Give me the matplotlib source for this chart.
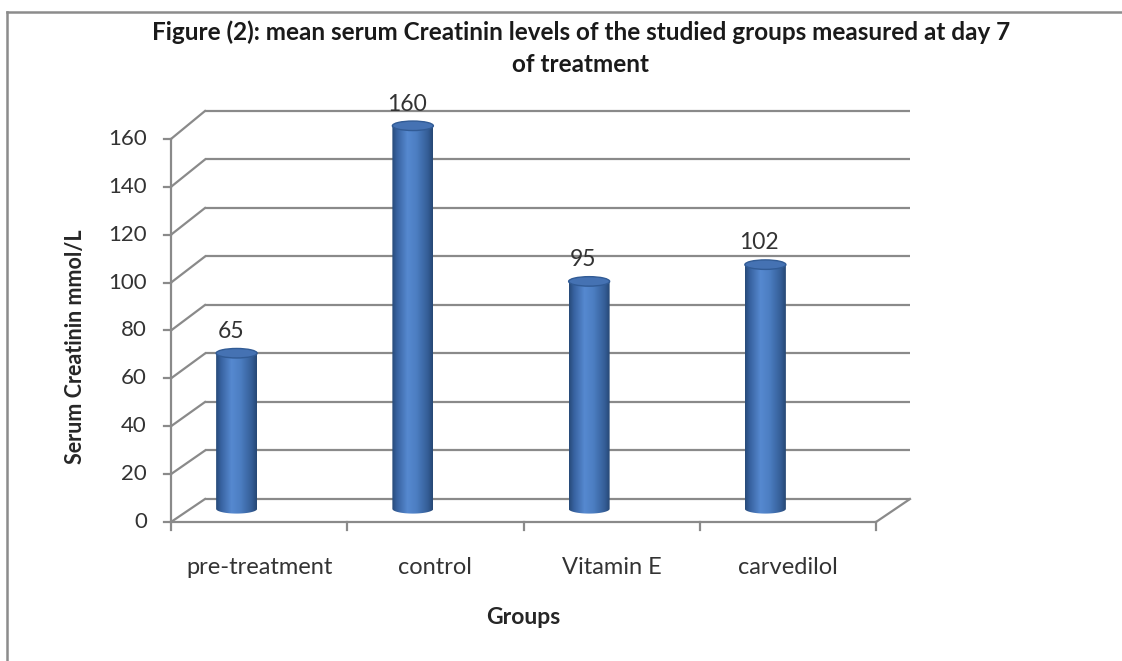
import matplotlib
matplotlib.use("Agg")
import matplotlib.pyplot as plt
import numpy as np
from matplotlib.patches import Ellipse, PathPatch
from matplotlib.path import Path
from matplotlib.colors import LinearSegmentedColormap
from matplotlib.lines import Line2D

# ---- data ----
categories = ["pre-treatment", "control", "Vitamin E", "carvedilol"]
values = [65, 160, 95, 102]
yticks = [0, 20, 40, 60, 80, 100, 120, 140, 160]
title = "Figure (2): mean serum Creatinin levels of the studied groups measured at day 7\nof treatment"
xlabel = "Groups"
ylabel = "Serum Creatinin mmol/L"

W, H, DPI = 1122, 661, 100
fig = plt.figure(figsize=(W / DPI, H / DPI), dpi=DPI)
ax = fig.add_axes([0, 0, 1, 1])
ax.axis("off")

# pixel scales (for layout only)
PXC = 176.25          # px per category
PXV = 2.394           # px per value unit
x0px, y0px = 171, 522 # front-left-bottom corner in pixels
xlim = (-0.5 - x0px / PXC, -0.5 + (W - x0px) / PXC)
ylim = (-(H - y0px) / PXV, y0px / PXV)

def px_x(p):
    return p / PXC

def px_y(p):
    return p / PXV

FONT = "Lato"
txt_c = "#333333"
grid_c = "#8a8a8a"
lw = 1.6

# depth offset of back wall
dx = px_x(34)
def back_y(v):
    return px_y(23) + v * 1.013

xmin, xmax = -0.5, len(categories) - 0.5

# back wall gridlines + left wall diagonals
for v in yticks:
    by = back_y(v)
    ax.plot([xmin + dx, xmax + dx], [by, by], color=grid_c, lw=lw, solid_capstyle="butt", zorder=1)
    ax.plot([xmin, xmin + dx], [v, by], color=grid_c, lw=lw, zorder=1)
    ax.plot([xmin - px_x(7), xmin], [v, v], color=grid_c, lw=lw, zorder=1)
    ax.text(xmin - px_x(24), v, str(v), ha="right", va="center",
            fontsize=16, family=FONT, color=txt_c)

# floor
ax.plot([xmin, xmax], [0, 0], color=grid_c, lw=lw, zorder=1)
ax.plot([xmax, xmax + dx], [0, back_y(0)], color=grid_c, lw=lw, zorder=1)
# front y-axis
ax.plot([xmin, xmin], [0, yticks[-1]], color=grid_c, lw=lw, zorder=1)
# category ticks
for k in range(len(categories) + 1):
    xx = xmin + k
    ax.plot([xx, xx], [0, -px_y(8)], color=grid_c, lw=lw, zorder=1)

# category labels
for i, c in enumerate(categories):
    ax.text(i, -px_y(45), c, ha="center", va="center", fontsize=17,
            family=FONT, color=txt_c)

# cylinders
cmap = LinearSegmentedColormap.from_list(
    "cyl", [(0.0, "#274a78"), (0.12, "#3762a0"), (0.38, "#5689d0"),
            (0.6, "#4c7ec2"), (0.88, "#345d96"), (1.0, "#264773")])
bw = px_x(41)
eh = px_y(9.5)
base = 5.5
xoff = -px_x(22.5)
grad = np.linspace(0, 1, 256).reshape(1, -1)
for i, v in enumerate(values):
    xc = i + xoff
    top = base + v
    th = np.linspace(np.pi, 2 * np.pi, 60)
    bx = xc + bw / 2 * np.cos(th)
    byy = base + eh / 2 * np.sin(th)
    verts = list(zip(bx, byy)) + [(xc + bw / 2, top), (xc - bw / 2, top), (bx[0], byy[0])]
    codes = [Path.MOVETO] + [Path.LINETO] * (len(verts) - 2) + [Path.CLOSEPOLY]
    path = Path(verts, codes)
    patch = PathPatch(path, facecolor="none", edgecolor="none", transform=ax.transData)
    ax.add_patch(patch)
    im = ax.imshow(grad, cmap=cmap, aspect="auto", origin="lower",
                   extent=[xc - bw / 2, xc + bw / 2, base - eh, top], zorder=3,
                   interpolation="bilinear")
    im.set_clip_path(patch)
    ax.add_patch(Ellipse((xc, top), bw, eh, facecolor="#4572b3",
                         edgecolor="#315b95", lw=1.0, zorder=4))
    ax.text(xc - px_x(6), top + eh / 2 + px_y(17), str(v), ha="center", va="center",
            fontsize=16.5, family=FONT, color=txt_c, zorder=5)

# axis titles
ax.text(1.5, -px_y(95), xlabel, ha="center", va="center",
        fontsize=16.5, fontweight="bold", family=FONT, color="#262626")
ax.text(xmin - px_x(96), px_y(522 - 347), ylabel, ha="center", va="center",
        rotation=90, fontsize=15.5, fontweight="bold", family=FONT, color="#262626")

# title
fig.text(581 / W, 1 - 48 / H, title, ha="center", va="center", fontsize=17.5,
         fontweight="bold", family=FONT, color="#1a1a1a", linespacing=1.48)

# frame border (top and left)
fig.add_artist(Line2D([7 / W, 1], [1 - 12 / H, 1 - 12 / H], color="#8c8c8c", lw=1.8,
                      transform=fig.transFigure))
fig.add_artist(Line2D([7 / W, 7 / W], [0, 1 - 12 / H], color="#8c8c8c", lw=1.8,
                      transform=fig.transFigure))

ax.set_xlim(*xlim)
ax.set_ylim(*ylim)
fig.savefig("out.png", dpi=DPI, facecolor="white")
